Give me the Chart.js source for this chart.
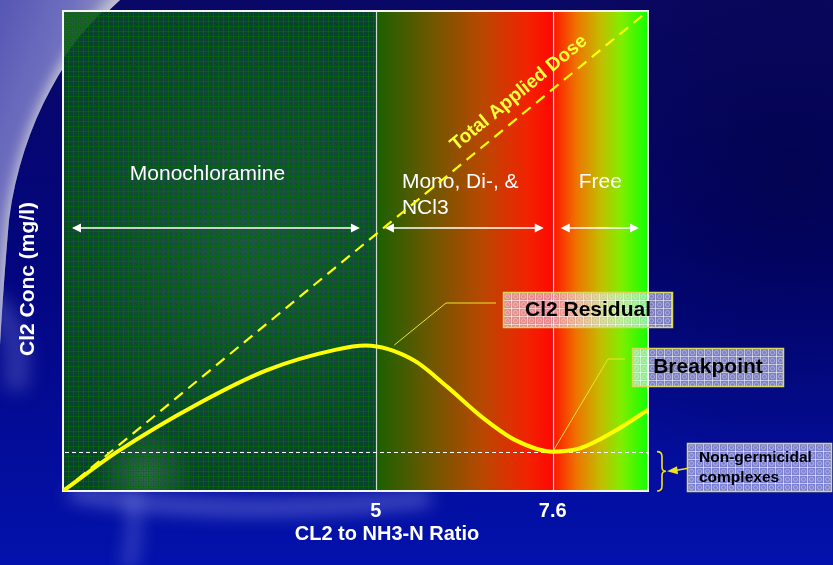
<!DOCTYPE html>
<html>
<head>
<meta charset="utf-8">
<script src="https://cdn.jsdelivr.net/npm/chart.js@4"></script>
<style>
  html, body { margin: 0; padding: 0; background: #06087a; }
  #wrap { width: 833px; height: 565px; }
</style>
</head>
<body>
<div id="wrap"><canvas id="c" width="833" height="565"></canvas></div>
<script>
// Cl2 : NH3-N ratio (x) and chlorine concentration (y, relative units)
const ratio    = [0.4, 1.2, 2.4, 3.4, 4.4, 4.85, 5.55, 6.05, 6.55, 7.05, 7.6, 8.0, 8.5, 9.0];
const residual = [0.0, 0.82, 1.83, 2.52, 2.94, 3.03, 2.73, 2.17, 1.55, 1.06, 0.82, 0.89, 1.24, 1.69];

// Total applied dose grows linearly with the ratio
const doseRatio = [0.4, 9.0];
const doseConc  = [0, 10];

// Zone boundaries / tick marks on the ratio axis
const tickMarks = [5, 7.6];
// Level of the non-germicidal complexes
const complexLevel = 0.82;

const FONT = '"Liberation Sans", Arial, Helvetica, sans-serif';

// ---------- small drawing helpers ----------
function makeGridPattern(ctx, size, color, dot) {
  const c = document.createElement('canvas');
  c.width = size; c.height = size;
  const g = c.getContext('2d');
  g.fillStyle = color;
  g.fillRect(0, 0, size, 1);
  g.fillRect(0, 0, 1, size);
  if (dot) {
    g.strokeStyle = dot;
    g.lineWidth = 1;
    g.beginPath();
    g.arc(size / 2 + 0.5, size / 2 + 0.5, size / 4, 0, Math.PI * 2);
    g.stroke();
  }
  return ctx.createPattern(c, 'repeat');
}

function makeGreenPattern(ctx) {
  const c = document.createElement('canvas');
  c.width = 5; c.height = 5;
  const g = c.getContext('2d');
  g.fillStyle = 'rgba(0,112,0,0.62)';
  g.fillRect(0, 0, 5, 1);
  g.fillRect(0, 0, 1, 5);
  g.fillStyle = 'rgba(10,50,90,0.35)';
  g.fillRect(2, 2, 1, 1);
  g.fillRect(3, 3, 1, 1);
  g.fillStyle = 'rgba(20,100,40,0.3)';
  g.fillRect(2, 3, 1, 1);
  g.fillRect(3, 2, 1, 1);
  return ctx.createPattern(c, 'repeat');
}

function arrowHead(ctx, x, y, dir, len, half) {
  ctx.beginPath();
  ctx.moveTo(x, y);
  ctx.lineTo(x - dir * len, y - half);
  ctx.lineTo(x - dir * len, y + half);
  ctx.closePath();
  ctx.fill();
}

function doubleArrow(ctx, x1, x2, y) {
  ctx.save();
  ctx.strokeStyle = '#ffffff';
  ctx.fillStyle = '#ffffff';
  ctx.lineWidth = 1.5;
  ctx.beginPath();
  ctx.moveTo(x1 + 6, y);
  ctx.lineTo(x2 - 6, y);
  ctx.stroke();
  arrowHead(ctx, x1, y, -1, 9, 4.5);
  arrowHead(ctx, x2, y, 1, 9, 4.5);
  ctx.restore();
}

function callout(ctx, x, y, w, h, lines, font, lineGap, textX, align) {
  ctx.save();
  ctx.fillStyle = 'rgba(225,225,255,0.55)';
  ctx.fillRect(x, y, w, h);
  ctx.save();
  ctx.translate(x, y);
  ctx.fillStyle = makeGridPattern(ctx, 8, 'rgba(255,255,255,0.55)', 'rgba(255,255,255,0.35)');
  ctx.fillRect(0, 0, w, h);
  ctx.restore();
  ctx.strokeStyle = '#d8d85a';
  ctx.lineWidth = 1.5;
  ctx.strokeRect(x + 0.5, y + 0.5, w - 1, h - 1);
  ctx.fillStyle = '#000000';
  ctx.font = font;
  ctx.textAlign = align;
  ctx.textBaseline = 'middle';
  const top = y + h / 2 - (lines.length - 1) * lineGap / 2;
  lines.forEach((t, i) => ctx.fillText(t, textX, top + i * lineGap));
  ctx.restore();
}

// ---------- backdrop of the whole slide ----------
const backdrop = {
  id: 'backdrop',
  beforeDraw(chart) {
    const ctx = chart.ctx;
    const W = chart.width, H = chart.height;
    ctx.save();
    let g = ctx.createLinearGradient(0, 0, 0, H);
    g.addColorStop(0, '#0a0866');
    g.addColorStop(0.45, '#03057c');
    g.addColorStop(1, '#0312ac');
    ctx.fillStyle = g;
    ctx.fillRect(0, 0, W, H);

    let r = ctx.createRadialGradient(790, 180, 10, 790, 180, 300);
    r.addColorStop(0, 'rgba(0,0,40,0.45)');
    r.addColorStop(1, 'rgba(0,0,40,0)');
    ctx.fillStyle = r;
    ctx.fillRect(0, 0, W, H);

    // lavender sweep in the upper-left corner
    ctx.save();
    ctx.beginPath();
    ctx.moveTo(0, 0);
    ctx.lineTo(120, 0);
    ctx.bezierCurveTo(70, 45, 22, 120, 9, 220);
    ctx.quadraticCurveTo(3, 290, 0, 345);
    ctx.closePath();
    ctx.clip();
    let lg = ctx.createLinearGradient(0, 0, 110, 40);
    lg.addColorStop(0, '#5656b4');
    lg.addColorStop(0.6, '#7070c0');
    lg.addColorStop(1, '#9a9ac4');
    ctx.fillStyle = lg;
    ctx.fillRect(0, 0, 130, 350);
    ctx.filter = 'blur(6px)';
    ctx.strokeStyle = 'rgba(200,200,215,0.85)';
    ctx.lineWidth = 22;
    ctx.beginPath();
    ctx.moveTo(128, -5);
    ctx.bezierCurveTo(78, 45, 30, 120, 17, 220);
    ctx.quadraticCurveTo(11, 290, 8, 350);
    ctx.stroke();
    ctx.restore();

    // soft lighter streaks below the plot
    ctx.save();
    ctx.filter = 'blur(9px)';
    ctx.strokeStyle = 'rgba(150,160,240,0.5)';
    ctx.lineWidth = 14;
    ctx.beginPath();
    ctx.moveTo(70, 492);
    ctx.quadraticCurveTo(220, 520, 430, 498);
    ctx.stroke();
    ctx.strokeStyle = 'rgba(150,160,240,0.45)';
    ctx.lineWidth = 10;
    ctx.beginPath();
    ctx.moveTo(132, 490);
    ctx.quadraticCurveTo(138, 530, 128, 570);
    ctx.stroke();
    ctx.strokeStyle = 'rgba(140,150,230,0.3)';
    ctx.lineWidth = 24;
    ctx.beginPath();
    ctx.moveTo(-10, 300);
    ctx.quadraticCurveTo(25, 330, 15, 390);
    ctx.stroke();
    ctx.restore();
    ctx.restore();
  }
};

// ---------- zones, frame and zone labels ----------
const zones = {
  id: 'zones',
  beforeDatasetsDraw(chart) {
    const ctx = chart.ctx;
    const a = chart.chartArea;
    const xs = chart.scales.x, ys = chart.scales.y;
    const x5 = xs.getPixelForValue(tickMarks[0]);
    const x76 = xs.getPixelForValue(tickMarks[1]);
    const zh = a.bottom - a.top;
    ctx.save();

    // monochloramine zone: dark green with a fine grid
    ctx.fillStyle = '#09402f';
    ctx.fillRect(a.left, a.top, x5 - a.left, zh);
    let glow = ctx.createRadialGradient(250, 250, 10, 250, 250, 230);
    glow.addColorStop(0, 'rgba(60,120,95,0.4)');
    glow.addColorStop(1, 'rgba(60,120,95,0)');
    ctx.fillStyle = glow;
    ctx.fillRect(a.left, a.top, x5 - a.left, zh);
    let glow2 = ctx.createRadialGradient(145, 475, 4, 145, 475, 50);
    glow2.addColorStop(0, 'rgba(120,170,130,0.35)');
    glow2.addColorStop(1, 'rgba(120,170,130,0)');
    ctx.fillStyle = glow2;
    ctx.fillRect(a.left, a.top, x5 - a.left, zh);
    // light corner in the top-left
    ctx.beginPath();
    ctx.moveTo(a.left, a.top);
    ctx.lineTo(a.left + 40, a.top);
    ctx.quadraticCurveTo(a.left + 15, a.top + 25, a.left, a.top + 48);
    ctx.closePath();
    ctx.fillStyle = 'rgba(50,120,50,0.55)';
    ctx.fill();
    ctx.save();
    ctx.translate(a.left, a.top);
    ctx.fillStyle = makeGreenPattern(ctx);
    ctx.fillRect(0, 0, x5 - a.left, zh);
    ctx.restore();

    // mixed chloramines zone: green to red
    let g1 = ctx.createLinearGradient(x5, 0, x76, 0);
    g1.addColorStop(0, '#1a6000');
    g1.addColorStop(0.3, '#6a5800');
    g1.addColorStop(0.6, '#b84800');
    g1.addColorStop(0.85, '#f02400');
    g1.addColorStop(1, '#ff0800');
    ctx.fillStyle = g1;
    ctx.fillRect(x5, a.top, x76 - x5, zh);

    // free chlorine zone: red to bright green
    let g2 = ctx.createLinearGradient(x76, 0, a.right, 0);
    g2.addColorStop(0, '#ff1400');
    g2.addColorStop(0.25, '#ee7400');
    g2.addColorStop(0.5, '#c4bc00');
    g2.addColorStop(0.72, '#80ee00');
    g2.addColorStop(1, '#10ff00');
    ctx.fillStyle = g2;
    ctx.fillRect(x76, a.top, a.right - x76, zh);

    // zone boundaries
    ctx.strokeStyle = 'rgba(225,235,225,0.9)';
    ctx.lineWidth = 1.2;
    [x5, x76].forEach(x => {
      ctx.beginPath();
      ctx.moveTo(Math.round(x) + 0.5, a.top);
      ctx.lineTo(Math.round(x) + 0.5, a.bottom);
      ctx.stroke();
    });

    // frame
    ctx.strokeStyle = '#f4f4f4';
    ctx.lineWidth = 2;
    ctx.strokeRect(a.left, a.top, a.right - a.left, zh);

    // non-germicidal complexes level
    const yl = Math.round(ys.getPixelForValue(complexLevel)) + 0.5;
    ctx.strokeStyle = '#ffffff';
    ctx.lineWidth = 1;
    ctx.setLineDash([4, 3]);
    ctx.beginPath();
    ctx.moveTo(a.left + 2, yl);
    ctx.lineTo(a.right, yl);
    ctx.stroke();
    ctx.setLineDash([]);

    // zone labels
    ctx.fillStyle = '#ffffff';
    ctx.font = '21px ' + FONT;
    ctx.textBaseline = 'middle';
    ctx.textAlign = 'center';
    ctx.fillText('Monochloramine', (a.left + x5) / 2 - 12, 174);
    ctx.fillText('Free', (x76 + a.right) / 2, 182);
    ctx.textAlign = 'left';
    ctx.fillText('Mono, Di-, &', x5 + 26, 182);
    ctx.fillText('NCl3', x5 + 26, 208);

    // zone extents
    const ay = 228;
    doubleArrow(ctx, a.left + 9, x5 - 16, ay);
    doubleArrow(ctx, x5 + 9, x76 - 9, ay);
    doubleArrow(ctx, x76 + 8, a.right - 9, ay);
    ctx.restore();
  },

  afterDatasetsDraw(chart) {
    const ctx = chart.ctx;
    const a = chart.chartArea;
    const xs = chart.scales.x, ys = chart.scales.y;
    ctx.save();

    // label along the total-dose line
    const p0x = xs.getPixelForValue(doseRatio[0]), p0y = ys.getPixelForValue(doseConc[0]);
    const p1x = xs.getPixelForValue(doseRatio[1]), p1y = ys.getPixelForValue(doseConc[1]);
    const ang = Math.atan2(p1y - p0y, p1x - p0x);
    ctx.save();
    ctx.translate(519, 93);
    ctx.rotate(ang);
    ctx.fillStyle = '#ffff3a';
    ctx.font = 'bold 19px ' + FONT;
    ctx.textAlign = 'center';
    ctx.textBaseline = 'middle';
    ctx.fillText('Total Applied Dose', 0, 0);
    ctx.restore();

    // leader lines
    ctx.strokeStyle = '#e8e830';
    ctx.lineWidth = 1;
    const rx = xs.getPixelForValue(5.27), ry = ys.getPixelForValue(3.04);
    ctx.beginPath();
    ctx.moveTo(rx, ry);
    ctx.lineTo(446, 303);
    ctx.lineTo(496, 303);
    ctx.stroke();
    const bx = xs.getPixelForValue(tickMarks[1]), by = ys.getPixelForValue(complexLevel);
    ctx.beginPath();
    ctx.moveTo(bx, by);
    ctx.lineTo(608, 359);
    ctx.lineTo(625, 359);
    ctx.stroke();

    // callout boxes
    callout(ctx, 503, 292, 170, 36, ['Cl2 Residual'], 'bold 21px ' + FONT, 0, 588, 'center');
    callout(ctx, 632, 348, 152, 39, ['Breakpoint'], 'bold 21px ' + FONT, 0, 708, 'center');
    callout(ctx, 687, 443, 145, 49, ['Non-germicidal', 'complexes'], 'bold 15.5px ' + FONT, 20, 699, 'left');

    // brace marking the complexes band
    const top = ys.getPixelForValue(complexLevel), bot = a.bottom;
    const mid = (top + bot) / 2;
    ctx.strokeStyle = '#f0e020';
    ctx.lineWidth = 1.6;
    ctx.beginPath();
    ctx.moveTo(657, top);
    ctx.quadraticCurveTo(662, top, 662, top + 5);
    ctx.lineTo(662, mid - 4);
    ctx.quadraticCurveTo(662, mid, 666, mid);
    ctx.quadraticCurveTo(662, mid, 662, mid + 4);
    ctx.lineTo(662, bot - 5);
    ctx.quadraticCurveTo(662, bot, 657, bot);
    ctx.stroke();
    ctx.beginPath();
    ctx.moveTo(688, mid - 3);
    ctx.lineTo(674, mid - 0.5);
    ctx.stroke();
    ctx.fillStyle = '#f0e020';
    ctx.beginPath();
    ctx.moveTo(667, mid);
    ctx.lineTo(677, mid - 5);
    ctx.lineTo(678, mid + 3);
    ctx.closePath();
    ctx.fill();

    // axis titles
    ctx.fillStyle = '#ffffff';
    ctx.font = 'bold 20px ' + FONT;
    ctx.textAlign = 'center';
    ctx.textBaseline = 'middle';
    ctx.fillText('CL2 to NH3-N Ratio', 387, 534);
    ctx.save();
    ctx.translate(28, 279);
    ctx.rotate(-Math.PI / 2);
    ctx.font = 'bold 21px ' + FONT;
    ctx.fillText('Cl2 Conc (mg/l)', 0, 0);
    ctx.restore();
    ctx.restore();
  }
};

const chart = new Chart(document.getElementById('c'), {
  type: 'scatter',
  data: {
    datasets: [
      {
        label: 'Total Applied Dose',
        data: doseRatio.map((x, i) => ({ x, y: doseConc[i] })),
        showLine: true,
        borderColor: '#ffff00',
        borderWidth: 2.2,
        borderDash: [11, 7],
        pointRadius: 0,
        fill: false
      },
      {
        label: 'Cl2 Residual',
        data: ratio.map((x, i) => ({ x, y: residual[i] })),
        showLine: true,
        borderColor: '#ffff00',
        borderWidth: 4,
        cubicInterpolationMode: 'monotone',
        pointRadius: 0,
        fill: false
      }
    ]
  },
  options: {
    responsive: false,
    devicePixelRatio: 1,
    animation: false,
    layout: { padding: { top: 11, right: 185, left: 0, bottom: 0 } },
    plugins: { legend: { display: false }, tooltip: { enabled: false } },
    scales: {
      x: {
        type: 'linear',
        min: 0.4,
        max: 9.0,
        grid: { display: false, drawTicks: false },
        border: { display: false },
        afterBuildTicks: s => { s.ticks = tickMarks.map(v => ({ value: v })); },
        afterFit: s => { s.height = 74; },
        ticks: {
          color: '#ffffff',
          font: { family: FONT, size: 20, weight: 'bold' },
          padding: 8,
          maxRotation: 0,
          autoSkip: false,
          callback: v => String(v)
        }
      },
      y: {
        type: 'linear',
        min: 0,
        max: 10,
        grid: { display: false },
        border: { display: false },
        ticks: { display: false },
        afterFit: s => { s.width = 63; }
      }
    }
  },
  plugins: [backdrop, zones]
});
</script>
</body>
</html>
